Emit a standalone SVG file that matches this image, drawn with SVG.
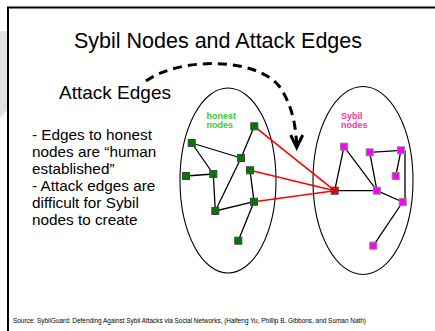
<svg xmlns="http://www.w3.org/2000/svg" width="435" height="331" viewBox="0 0 435 331">
<style>
.t{font-family:"Liberation Sans",Arial,sans-serif;fill:#000}
.e{stroke:#000;stroke-width:1.3;fill:none}
.r{stroke:#ff0000;stroke-width:1.6;fill:none}
.g{fill:#007a00;stroke:#444;stroke-width:1}
.m{fill:#ff00ff;stroke:#888;stroke-width:1}
.ov{fill:none;stroke:#000;stroke-width:1.1}
.lb{font-family:"Liberation Sans",Arial,sans-serif;font-weight:bold;font-size:9px}
</style>
<rect width="435" height="331" fill="#fff"/>
<polygon points="0,31 7,31 7,110 0,118" fill="#e2e2e2"/>
<path d="M8,331 V7.5 H435" fill="none" stroke="#000" stroke-width="2"/>
<text class="t" x="218" y="48" font-size="21.5" text-anchor="middle">Sybil Nodes and Attack Edges</text>
<text class="t" x="59" y="99" font-size="19">Attack Edges</text>
<g class="t" font-size="15.3">
<text x="32" y="140">- Edges to honest</text>
<text x="32" y="157">nodes are “human</text>
<text x="32" y="174">established”</text>
<text x="32" y="191">- Attack edges are</text>
<text x="32" y="208">difficult for Sybil</text>
<text x="32" y="225">nodes to create</text>
</g>
<text class="t" x="13" y="323" font-size="6.6" textLength="353" lengthAdjust="spacingAndGlyphs">Source: SybilGuard: Defending Against Sybil Attacks via Social Networks, (Haifeng Yu, Phillip B. Gibbons, and Suman Nath)</text>
<g id="honest-region">
<ellipse class="ov" cx="228" cy="180.5" rx="48" ry="92.5"/>
<text class="lb" x="206.5" y="119" fill="#33cc33">honest</text>
<text class="lb" x="206.5" y="128" fill="#33cc33">nodes</text>
</g>
<g id="sybil-region">
<ellipse class="ov" cx="363" cy="180.5" rx="50" ry="94"/>
<text class="lb" x="341" y="118.5" fill="#ff3399">Sybil</text>
<text class="lb" x="341" y="127.5" fill="#ff3399">nodes</text>
</g>
<g id="connectors">
<line class="e" x1="191.7" y1="143" x2="241" y2="158"/>
<line class="e" x1="191.7" y1="143" x2="213.3" y2="174"/>
<line class="e" x1="186" y1="176" x2="213.3" y2="174"/>
<line class="e" x1="213.3" y1="174" x2="215.3" y2="211"/>
<line class="e" x1="215.3" y1="211" x2="241" y2="158"/>
<line class="e" x1="241" y1="158" x2="254.3" y2="126.3"/>
<line class="e" x1="215.3" y1="211" x2="254" y2="201.7"/>
<line class="e" x1="254" y1="201.7" x2="250" y2="170.3"/>
<line class="e" x1="254" y1="201.7" x2="238.3" y2="240.7"/>
<line class="r" x1="254.3" y1="126.3" x2="334.7" y2="190.7"/>
<line class="r" x1="250" y1="170.3" x2="334.7" y2="190.7"/>
<line class="r" x1="254" y1="201.7" x2="334.7" y2="190.7"/>
<line class="e" x1="334.7" y1="190.7" x2="344" y2="146.7"/>
<line class="e" x1="344" y1="146.7" x2="377" y2="190.7"/>
<line class="e" x1="334.7" y1="190.7" x2="377" y2="190.7"/>
<line class="e" x1="369.7" y1="152.3" x2="377" y2="190.7"/>
<line class="e" x1="369.7" y1="152.3" x2="401" y2="150.3"/>
<line class="e" x1="401" y1="150.3" x2="395.7" y2="176"/>
<line class="e" x1="405" y1="150.3" x2="405" y2="202"/>
<line class="e" x1="377" y1="190.7" x2="402.7" y2="202"/>
<line class="e" x1="402.7" y1="202" x2="373.3" y2="245.7"/>
<path d="M146,81 C180,57 255,57 279,86 C290,101 296,122 296.7,146" fill="none" stroke="#000" stroke-width="3" stroke-dasharray="9,6"/>
<path d="M290.7,135 L296.7,147.5 L302.7,135" fill="none" stroke="#000" stroke-width="3"/>
</g>
<g id="h1"><rect class="g" x="250.8" y="122.8" width="7" height="7"/></g>
<g id="h2"><rect class="g" x="188.2" y="139.5" width="7" height="7"/></g>
<g id="h3"><rect class="g" x="237.5" y="154.5" width="7" height="7"/></g>
<g id="h4"><rect class="g" x="182.5" y="172.5" width="7" height="7"/></g>
<g id="h5"><rect class="g" x="209.8" y="170.5" width="7" height="7"/></g>
<g id="h6"><rect class="g" x="246.5" y="166.8" width="7" height="7"/></g>
<g id="h7"><rect class="g" x="250.5" y="198.2" width="7" height="7"/></g>
<g id="h8"><rect class="g" x="211.8" y="207.5" width="7" height="7"/></g>
<g id="h9"><rect class="g" x="234.8" y="237.2" width="7" height="7"/></g>
<g id="attacker"><rect x="331.2" y="187.2" width="7" height="7" fill="#ee0000" stroke="#444" stroke-width="1"/></g>
<g id="s1"><rect class="m" x="340.5" y="143.2" width="7" height="7"/></g>
<g id="s2"><rect class="m" x="366.2" y="148.8" width="7" height="7"/></g>
<g id="s3"><rect class="m" x="397.5" y="146.8" width="7" height="7"/></g>
<g id="s4"><rect class="m" x="392.2" y="172.5" width="7" height="7"/></g>
<g id="s5"><rect class="m" x="373.5" y="187.2" width="7" height="7"/></g>
<g id="s6"><rect class="m" x="399.2" y="198.5" width="7" height="7"/></g>
<g id="s7"><rect class="m" x="369.8" y="242.2" width="7" height="7"/></g>
</svg>
